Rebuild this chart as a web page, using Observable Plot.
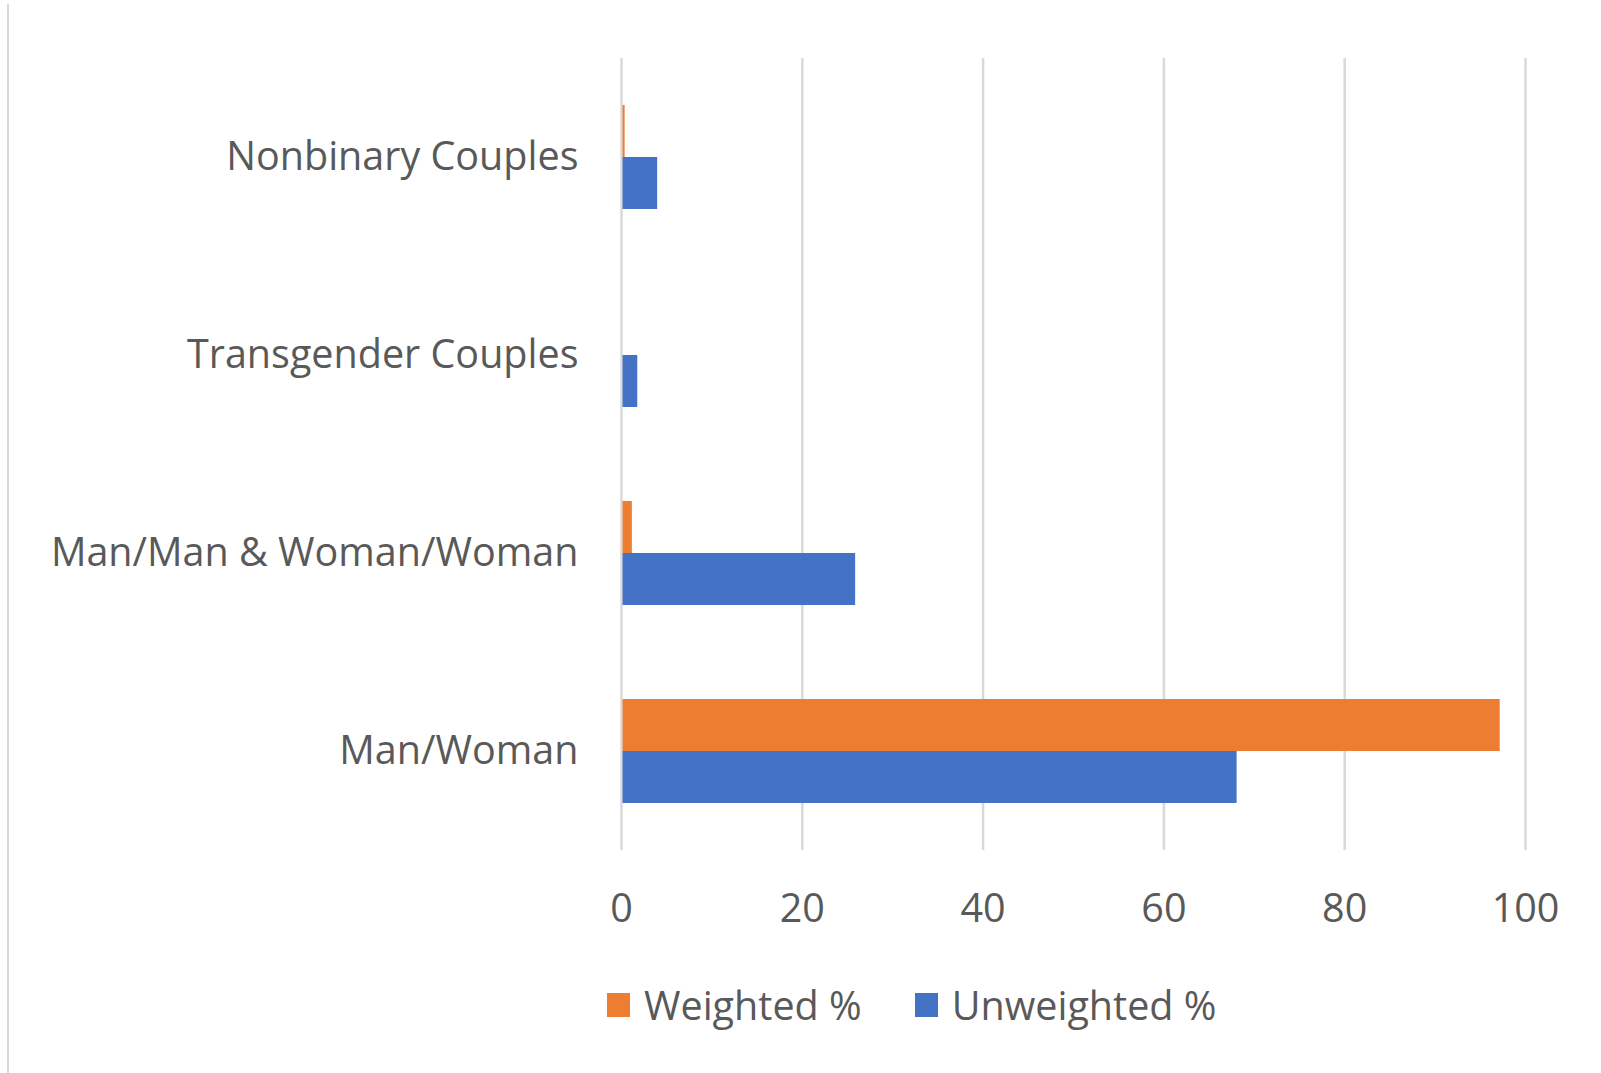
<!DOCTYPE html>
<html>
<head>
<meta charset="utf-8">
<script src="https://cdn.jsdelivr.net/npm/d3@7"></script>
<script src="https://cdn.jsdelivr.net/npm/@observablehq/plot@0.6"></script>
<style>
  html, body { margin: 0; padding: 0; background: #fff; }
  body { width: 1601px; height: 1073px; position: relative; overflow: hidden; font-family: "Open Sans", "Noto Sans", sans-serif; }
  #edge { position: absolute; left: 7px; top: 4px; width: 2px; height: 1069px; background: #d9d9d9; }
  #legend { position: absolute; left: 0; top: 978px; display: flex; align-items: center; padding-left: 607px; font-size: 39.5px; color: #595959; }
  .item { display: flex; align-items: center; margin-right: 53px; }
  .sw { width: 23px; height: 24px; margin-right: 14px; }
</style>
</head>
<body>
<div id="edge"></div>
<div id="chart"></div>
<div id="legend"></div>
<script>
const categories = ["Nonbinary Couples", "Transgender Couples", "Man/Man & Woman/Woman", "Man/Woman"];
const series = ["Weighted %", "Unweighted %"];
const weighted = [0.4, 0, 1.2, 97.2];
const unweighted = [4.0, 1.8, 25.9, 68.1];
const xTicks = [0, 20, 40, 60, 80, 100];
const colors = ["#ED7D31", "#4472C4"];

const data = [];
categories.forEach((c, i) => {
  data.push({category: c, series: series[0], value: weighted[i]});
  data.push({category: c, series: series[1], value: unweighted[i]});
});

const chart = Plot.plot({
  width: 1601,
  height: 955,
  marginLeft: 621,
  marginRight: 76,
  marginTop: 58,
  marginBottom: 105,
  style: {fontSize: "39.5px", fontFamily: "'Open Sans', 'Noto Sans', sans-serif", color: "#595959", background: "transparent"},
  x: {domain: [0, 100], ticks: xTicks, tickSize: 0, tickPadding: 43, label: null},
  y: {domain: series, axis: null, paddingInner: 0, paddingOuter: 0.9},
  fy: {domain: categories, padding: 0, axis: "left", tickSize: 0, tickPadding: 43, label: null},
  color: {domain: series, range: colors},
  marks: [
    Plot.gridX(xTicks, {stroke: "#d9d9d9", strokeOpacity: 1, strokeWidth: 2.5}),
    Plot.barX(data, {fy: "category", y: "series", x: "value", fill: "series", insetLeft: 1.5})
  ]
});
document.getElementById("chart").appendChild(chart);

const legend = document.getElementById("legend");
series.forEach((s, i) => {
  const item = document.createElement("div");
  item.className = "item";
  const sw = document.createElement("div");
  sw.className = "sw";
  sw.style.background = colors[i];
  const t = document.createElement("span");
  t.textContent = s;
  item.appendChild(sw);
  item.appendChild(t);
  legend.appendChild(item);
});
</script>
</body>
</html>
